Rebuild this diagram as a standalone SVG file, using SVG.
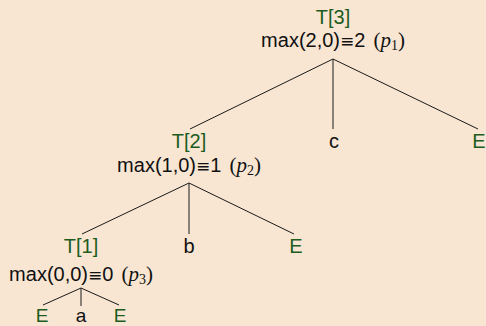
<svg xmlns="http://www.w3.org/2000/svg" width="486" height="326" viewBox="0 0 486 326">
<style>
  text { font-family: "Liberation Sans", Arial, sans-serif; font-size: 20px; text-anchor: middle; fill: #111; }
  .g { fill: #1d5c1d; }
  .m { font-family: "Liberation Serif", "Times New Roman", serif; font-size: 21px; }
  .eq { font-family: "DejaVu Sans", sans-serif; font-size: 17px; }
  .i { font-style: italic; }
  .sub { font-size: 14px; }
  .bot { font-size: 19px; }
  line { stroke: #1a1a1a; stroke-width: 1; }
</style>
<rect width="486" height="326" fill="#f8e6d3"/>
<g id="connectors">
  <line x1="333" y1="59" x2="190" y2="129"/>
  <line x1="333" y1="59" x2="333" y2="129"/>
  <line x1="333" y1="59" x2="478" y2="129"/>
  <line x1="189" y1="183" x2="82" y2="234"/>
  <line x1="189" y1="183" x2="189" y2="234"/>
  <line x1="189" y1="183" x2="294" y2="234"/>
  <line x1="81" y1="288" x2="43" y2="305"/>
  <line x1="81" y1="288" x2="81" y2="306"/>
  <line x1="81" y1="288" x2="119" y2="305"/>
</g>
<g id="T3">
  <text x="333" y="24" class="g">T[3]</text>
  <text x="333" y="47">max(2,0)<tspan class="eq">≡</tspan>2<tspan class="m" dx="8">(</tspan><tspan class="m i">p</tspan><tspan class="m sub" dy="3">1</tspan><tspan class="m" dy="-3">)</tspan></text>
</g>
<g id="c"><text x="334" y="148">c</text></g>
<g id="E3"><text x="479" y="148" class="g">E</text></g>
<g id="T2">
  <text x="189" y="148" class="g">T[2]</text>
  <text x="189" y="172">max(1,0)<tspan class="eq">≡</tspan>1<tspan class="m" dx="8">(</tspan><tspan class="m i">p</tspan><tspan class="m sub" dy="3">2</tspan><tspan class="m" dy="-3">)</tspan></text>
</g>
<g id="b"><text x="189" y="253">b</text></g>
<g id="E2"><text x="296" y="253" class="g">E</text></g>
<g id="T1">
  <text x="81" y="253" class="g">T[1]</text>
  <text x="81" y="281">max(0,0)<tspan class="eq">≡</tspan>0<tspan class="m" dx="8">(</tspan><tspan class="m i">p</tspan><tspan class="m sub" dy="3">3</tspan><tspan class="m" dy="-3">)</tspan></text>
</g>
<g id="Ea"><text x="42" y="322" class="g bot">E</text></g>
<g id="a"><text x="81" y="322" class="bot">a</text></g>
<g id="Eb"><text x="120" y="322" class="g bot">E</text></g>
</svg>
